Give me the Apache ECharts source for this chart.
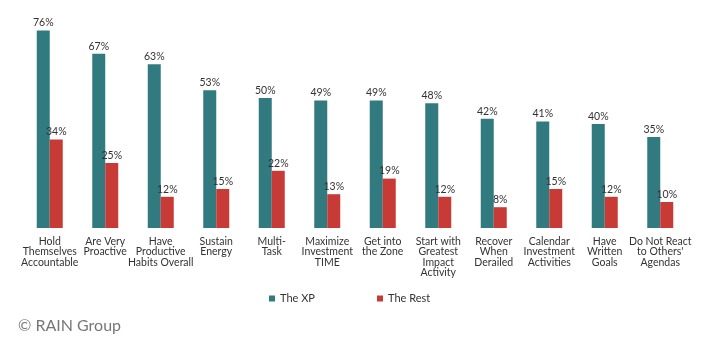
<!DOCTYPE html>
<html>
<head>
<meta charset="utf-8">
<script src="https://cdn.jsdelivr.net/npm/echarts@6/dist/echarts.min.js"></script>
<style>html,body{margin:0;padding:0;background:#fff;}#c{width:703px;height:349px;}</style>
</head>
<body>
<div id="c"></div>
<script>
const categories = [
  "Hold\nThemselves\nAccountable",
  "Are Very\nProactive",
  "Have\nProductive\nHabits Overall",
  "Sustain\nEnergy",
  "Multi-\nTask",
  "Maximize\nInvestment\nTIME",
  "Get into\nthe Zone",
  "Start with\nGreatest\nImpact\nActivity",
  "Recover\nWhen\nDerailed",
  "Calendar\nInvestment\nActivities",
  "Have\nWritten\nGoals",
  "Do Not React\nto Others'\nAgendas"
];
const theXP = [76, 67, 63, 53, 50, 49, 49, 48, 42, 41, 40, 35];
const theRest = [34, 25, 12, 15, 22, 13, 19, 12, 8, 15, 12, 10];
const seriesNames = ["The XP", "The Rest"];

const chart = echarts.init(document.getElementById('c'), null, {renderer: 'canvas'});
const font = "Lato, 'Open Sans', sans-serif";
chart.setOption({
  animation: false,
  backgroundColor: '#fff',
  textStyle: {fontFamily: font},
  grid: {left: 22, right: 15, top: 20, bottom: 121, containLabel: false},
  legend: [
    {data: [seriesNames[0]], left: 264, top: 288, itemWidth: 6, itemHeight: 6, icon: 'rect',
     textStyle: {fontSize: 11, color: '#333', fontFamily: font}},
    {data: [seriesNames[1]], left: 372, top: 288, itemWidth: 6, itemHeight: 6, icon: 'rect',
     textStyle: {fontSize: 11, color: '#333', fontFamily: font}}
  ],
  xAxis: {
    type: 'category',
    data: categories,
    axisLine: {show: false},
    axisTick: {show: false},
    axisLabel: {interval: 0, fontSize: 10.5, lineHeight: 10.5, color: '#333', margin: 8, fontFamily: font}
  },
  yAxis: {type: 'value', min: 0, max: 80, show: false, splitLine: {show: false}},
  series: [
    {name: seriesNames[0], type: 'bar', data: theXP, barWidth: 13, barGap: '0%',
     itemStyle: {color: '#317b80'},
     label: {show: true, position: 'top', distance: 2, formatter: '{c}%', fontSize: 10.5, color: '#333', fontFamily: font}},
    {name: seriesNames[1], type: 'bar', data: theRest, barWidth: 13, barGap: '0%',
     itemStyle: {color: '#c83a35'},
     label: {show: true, position: 'top', distance: 2, formatter: '{c}%', fontSize: 10.5, color: '#333', fontFamily: font}}
  ],
  graphic: [
    {type: 'text', left: 18, top: 318, style: {text: '© RAIN Group', fontSize: 16, fill: '#777', fontFamily: font}}
  ]
});
</script>
</body>
</html>
